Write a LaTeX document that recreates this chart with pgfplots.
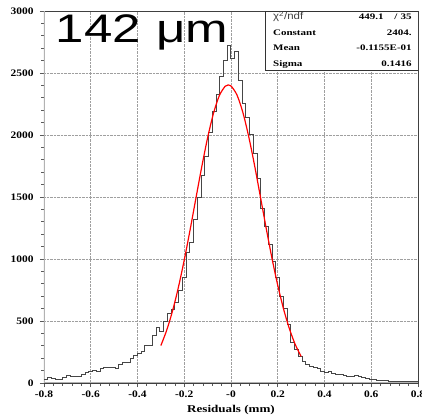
\documentclass[border=0pt]{standalone}
\usepackage{fontspec}
\setmainfont{Liberation Serif}
\newfontfamily\lsans{Liberation Sans}
\usepackage{pgfplots}
\pgfplotsset{compat=1.18}
\definecolor{histc}{RGB}{70,70,70}
\begin{document}
\begin{tikzpicture}
\begin{axis}[
  at={(0,0)}, anchor=south west,
  width=374bp, height=372bp, scale only axis,
  xmin=-0.8, xmax=0.8, ymin=0, ymax=3000,
  xtick={-0.8,-0.6,-0.4,-0.2,0,0.2,0.4,0.6,0.8},
  xticklabels={-0.8,-0.6,-0.4,-0.2,-0,0.2,0.4,0.6,0.8},
  ytick={0,500,1000,1500,2000,2500,3000},
  yticklabels={0,500,1000,1500,2000,2500,3000},
  minor x tick num=4, minor y tick num=4,
  tick align=outside, tick pos=left,
  major tick length=4bp, minor tick length=2.5bp,
  tick style={gray!70!black, line width=0.7pt},
  grid=major, major grid style={densely dotted, gray!75, line width=0.6pt},
  axis line style={black!75, line width=0.6pt},
  ticklabel style={font=\fontsize{10}{10}\selectfont\bfseries, xscale=1.15},
  yticklabel style={xshift=-2bp},
  xlabel={Residuals (mm)},
  xlabel style={font=\fontsize{10.5}{11}\selectfont\bfseries, xscale=1.25, at={(rel axis cs:0.5,0)}, anchor=base, yshift=-29bp},
  clip=true,
]
\draw[gray!60, line width=2pt] (rel axis cs:0,0) -- (rel axis cs:0,1);
\draw[gray!60, line width=2pt] (rel axis cs:0,0) -- (rel axis cs:1,0);
\addplot[const plot, histc, line width=1pt] coordinates {
(-0.800,25) (-0.784,42) (-0.768,38) (-0.752,28) (-0.736,30) (-0.720,48) (-0.704,62) (-0.688,52) (-0.672,50) (-0.656,52)
(-0.640,70) (-0.624,82) (-0.608,96) (-0.592,98) (-0.576,92) (-0.560,118) (-0.544,122) (-0.528,128) (-0.512,122) (-0.496,120)
(-0.480,150) (-0.464,165) (-0.448,168) (-0.432,200) (-0.416,225) (-0.400,240) (-0.384,258) (-0.368,300) (-0.352,300) (-0.336,385)
(-0.320,450) (-0.304,415) (-0.288,495) (-0.272,560) (-0.256,590) (-0.240,650) (-0.224,750) (-0.208,850) (-0.192,1050) (-0.176,1130)
(-0.160,1320) (-0.144,1500) (-0.128,1670) (-0.112,1830) (-0.096,2020) (-0.080,2190) (-0.064,2330) (-0.048,2470) (-0.032,2600) (-0.016,2720)
(0.000,2620) (0.016,2670) (0.032,2440) (0.048,2250) (0.064,2140) (0.080,2000) (0.096,1850) (0.112,1650) (0.128,1410) (0.144,1260)
(0.160,1120) (0.176,980) (0.192,850) (0.208,700) (0.224,600) (0.240,470) (0.256,330) (0.272,270) (0.288,215) (0.304,175)
(0.320,148) (0.336,132) (0.352,125) (0.368,118) (0.384,95) (0.400,88) (0.416,92) (0.432,80) (0.448,72) (0.464,68)
(0.480,58) (0.496,55) (0.512,52) (0.528,62) (0.544,55) (0.560,42) (0.576,38) (0.592,30) (0.608,25) (0.624,22)
(0.640,18) (0.656,18) (0.672,16) (0.688,16) (0.704,15) (0.720,14) (0.736,14) (0.752,13) (0.768,12) (0.784,12) (0.800,12)
};
\addplot[red, line width=1.2pt, smooth] coordinates {
(-0.300,302) (-0.275,426) (-0.250,582) (-0.225,772) (-0.200,992) (-0.175,1235) (-0.150,1491) (-0.125,1744)
(-0.100,1978) (-0.075,2174) (-0.050,2317) (-0.025,2393) (-0.0116,2404) (0.000,2396) (0.025,2325) (0.050,2187)
(0.075,1994) (0.100,1763) (0.125,1510) (0.150,1254) (0.175,1009) (0.200,788) (0.225,596) (0.250,437)
(0.275,310) (0.300,214)
};
\draw[black!80, line width=0.6pt, fill=white] (rel axis cs:0.593,0.841) rectangle (rel axis cs:1,1);
\node[anchor=base west, inner sep=0pt, font=\lsans\fontsize{10}{10}\selectfont, xscale=1.15, text=black!75] at (rel axis cs:0.612,0.976) {χ\textsuperscript{2}/ndf};
\node[anchor=base east, inner sep=0pt, font=\fontsize{8.5}{9}\selectfont\bfseries, xscale=1.3] at (rel axis cs:0.909,0.976) {449.1};
\node[anchor=base, inner sep=0pt, font=\fontsize{8.5}{9}\selectfont\bfseries, xscale=1.3] at (rel axis cs:0.941,0.976) {/};
\node[anchor=base east, inner sep=0pt, font=\fontsize{8.5}{9}\selectfont\bfseries, xscale=1.3] at (rel axis cs:0.984,0.976) {35};
\node[anchor=base west, inner sep=0pt, font=\fontsize{8.5}{9}\selectfont\bfseries, xscale=1.3] at (rel axis cs:0.612,0.935) {Constant};
\node[anchor=base east, inner sep=0pt, font=\fontsize{8.5}{9}\selectfont\bfseries, xscale=1.3] at (rel axis cs:0.984,0.935) {2404.};
\node[anchor=base west, inner sep=0pt, font=\fontsize{8.5}{9}\selectfont\bfseries, xscale=1.3] at (rel axis cs:0.612,0.895) {Mean};
\node[anchor=base east, inner sep=0pt, font=\fontsize{8.5}{9}\selectfont\bfseries, xscale=1.3] at (rel axis cs:0.984,0.895) {-0.1155E-01};
\node[anchor=base west, inner sep=0pt, font=\fontsize{8.5}{9}\selectfont\bfseries, xscale=1.3] at (rel axis cs:0.612,0.852) {Sigma};
\node[anchor=base east, inner sep=0pt, font=\fontsize{8.5}{9}\selectfont\bfseries, xscale=1.3] at (rel axis cs:0.984,0.852) {0.1416};
\node[anchor=base west, inner sep=0pt, font=\lsans\fontsize{40}{41}\selectfont, xscale=1.28] at (rel axis cs:0.031,0.914) {142\kern12bp μm};
\end{axis}
\pgfresetboundingbox
\useasboundingbox (-44bp,-36bp) rectangle (378bp,383bp);
\end{tikzpicture}
\end{document}
